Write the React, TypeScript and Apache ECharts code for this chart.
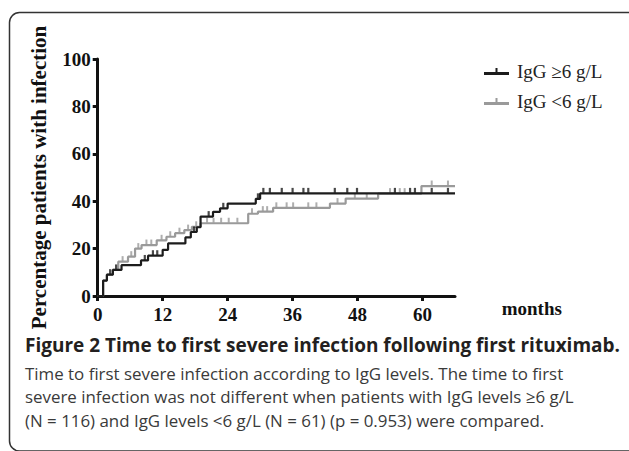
import React, { useEffect, useRef } from "react";
import * as echarts from "echarts";

const xTicks = [0, 12, 24, 36, 48, 60];
const yTicks = [0, 20, 40, 60, 80, 100];

const seriesNames = ["IgG ≥6 g/L", "IgG <6 g/L"];

// Step points [month, % with infection] (value holds until next point)
const highIgG = [
  [0, 0], [1.0, 6.5], [1.7, 9], [2.8, 11], [4.4, 13], [8.0, 15], [9.3, 17],
  [12.0, 19.5], [13.0, 22.2], [16.2, 24.7], [17.2, 27], [18.3, 29], [19.0, 33.5],
  [21.3, 35.5], [22.6, 37], [24.0, 39], [29.2, 41], [30.0, 43.3], [66, 43.3],
];
const lowIgG = [
  [0, 0], [1.0, 6.5], [1.7, 9], [2.8, 11], [3.8, 14.5], [5.6, 16.6], [6.9, 20],
  [8.1, 21.5], [10.9, 23.5], [12.7, 25], [14.3, 26.5], [16.0, 27.8], [17.4, 29.2],
  [19.0, 30.7], [27.8, 34.7], [29.6, 35.6], [32.4, 37.2], [42.9, 39], [45.8, 41.1],
  [51.8, 43.2], [59.8, 46.4], [66, 46.4],
];

// Censor marks
const highCensored = [
  [2.3, 9], [3.4, 11], [8.7, 15], [10.2, 17], [11.0, 17], [17.8, 27], [20.5, 33.5],
  [23.2, 37], [29.6, 41], [30.6, 43.3], [31.8, 43.3], [34.0, 43.3], [36.0, 43.3],
  [38.0, 43.3], [38.9, 43.3], [43.8, 43.3], [46.1, 43.3], [47.9, 43.3], [54.9, 43.3],
  [57.7, 43.3], [58.6, 43.3], [61.7, 43.3], [64.7, 43.3],
];
const lowCensored = [
  [4.6, 14.5], [6.2, 16.6], [7.5, 20], [9.0, 21.5], [9.9, 21.5], [11.8, 23.5],
  [13.4, 25], [15.1, 26.5], [16.7, 27.8], [18.2, 29.2], [20.2, 30.7], [21.4, 30.7],
  [22.8, 30.7], [24.2, 30.7], [25.8, 30.7], [28.5, 34.7], [30.5, 35.6], [31.3, 35.6],
  [33.0, 37.2], [34.9, 37.2], [36.1, 37.2], [38.9, 37.2], [40.4, 37.2], [44.3, 39],
  [47.5, 41.1], [49.7, 41.1], [54.0, 43.2], [55.8, 43.2], [56.7, 43.2], [61.7, 46.4],
  [64.7, 46.4],
];

const yAxisTitle = "Percentage patients with infection";
const xAxisTitle = "months";
const captionTitle = "Figure 2 Time to first severe infection following first rituximab.";
const captionLines = [
  "Time to first severe infection according to IgG levels. The time to first",
  "severe infection was not different when patients with IgG levels ≥6 g/L",
  "(N = 116) and IgG levels <6 g/L (N = 61) (p = 0.953) were compared.",
];

const BLACK = "#1c1c1c";
const GRAY = "#9a9a9a";
const SERIF = "'Liberation Serif', 'Times New Roman', serif";
const SANS = "'Open Sans', 'Noto Sans', sans-serif";

export default function App() {
  const ref = useRef<HTMLDivElement>(null);
  useEffect(() => {
    if (!ref.current) return;
    const chart = echarts.init(ref.current, null, { renderer: "svg" });
    const legendIcon = "path://M0,4h25v3h-25z M11.5,0h2v4h-2z";
    chart.setOption({
      animation: false,
      backgroundColor: "#ffffff",
      grid: { left: 97.7, right: 174, top: 59, bottom: 155, containLabel: false },
      legend: {
        orient: "vertical",
        left: 479,
        top: 57,
        itemWidth: 25,
        itemHeight: 7,
        itemGap: 11,
        data: [
          { name: seriesNames[0], icon: legendIcon },
          { name: seriesNames[1], icon: legendIcon },
        ],
        textStyle: { fontFamily: SERIF, fontSize: 19, color: "#222", padding: [0, 0, 0, 3] },
      },
      xAxis: {
        type: "value",
        min: 0,
        max: 66,
        interval: 12,
        splitLine: { show: false },
        axisLine: { lineStyle: { color: "#111", width: 3 } },
        axisTick: { show: true, length: 5, lineStyle: { color: "#111", width: 3 }, customValues: xTicks },
        axisLabel: {
          customValues: xTicks,
          margin: 9,
          fontFamily: SERIF,
          fontSize: 19,
          fontWeight: "bold",
          color: "#111",
        },
      },
      yAxis: {
        type: "value",
        min: 0,
        max: 100,
        interval: 20,
        name: yAxisTitle,
        nameLocation: "middle",
        nameRotate: 90,
        nameGap: 48,
        nameTextStyle: { fontFamily: SERIF, fontSize: 21, fontWeight: "bold", color: "#111" },
        splitLine: { show: false },
        axisLine: { show: true, lineStyle: { color: "#111", width: 3 } },
        axisTick: { show: true, length: 5, lineStyle: { color: "#111", width: 3 }, customValues: yTicks },
        axisLabel: {
          customValues: yTicks,
          margin: 7,
          fontFamily: SERIF,
          fontSize: 19,
          fontWeight: "bold",
          color: "#111",
        },
      },
      series: [
        {
          name: seriesNames[1],
          type: "line",
          step: "end",
          data: lowIgG,
          symbol: "none",
          color: GRAY,
          lineStyle: { color: GRAY, width: 2.2 },
          z: 2,
        },
        {
          name: "censored-low",
          type: "scatter",
          data: lowCensored,
          symbol: "rect",
          symbolSize: [2, 5],
          symbolOffset: [0, -3],
          itemStyle: { color: GRAY },
          z: 2,
        },
        {
          name: seriesNames[0],
          type: "line",
          step: "end",
          data: highIgG,
          symbol: "none",
          color: BLACK,
          lineStyle: { color: BLACK, width: 2.2 },
          z: 3,
        },
        {
          name: "censored-high",
          type: "scatter",
          data: highCensored,
          symbol: "rect",
          symbolSize: [2.2, 5],
          symbolOffset: [0, -3],
          itemStyle: { color: BLACK },
          z: 3,
        },
      ],
      graphic: [
        {
          type: "rect",
          shape: { x: 9.5, y: 12.5, width: 640, height: 438.5, r: 10 },
          style: { fill: "none", stroke: "#333", lineWidth: 1.5 },
          silent: true,
        },
        {
          type: "text",
          x: 501.7,
          y: 308,
          style: {
            text: xAxisTitle,
            fontFamily: SERIF,
            fontSize: 19,
            fontWeight: "bold",
            fill: "#111",
            verticalAlign: "middle",
          },
        },
        {
          type: "text",
          x: 25,
          y: 345,
          style: {
            text: captionTitle,
            fontFamily: SANS,
            fontSize: 19,
            fontWeight: "bold",
            fill: "#231f20",
            verticalAlign: "middle",
          },
        },
        ...captionLines.map((t, i) => ({
          type: "text",
          x: 25,
          y: 373 + i * 23.6,
          style: {
            text: t,
            fontFamily: SANS,
            fontSize: 16.9,
            fill: "#3a3a3a",
            verticalAlign: "middle",
          },
        })),
      ],
    });
    return () => chart.dispose();
  }, []);
  return (
    <div
      ref={ref}
      style={{ position: "fixed", left: 0, top: 0, width: 629, height: 451, background: "#fff" }}
    />
  );
}
